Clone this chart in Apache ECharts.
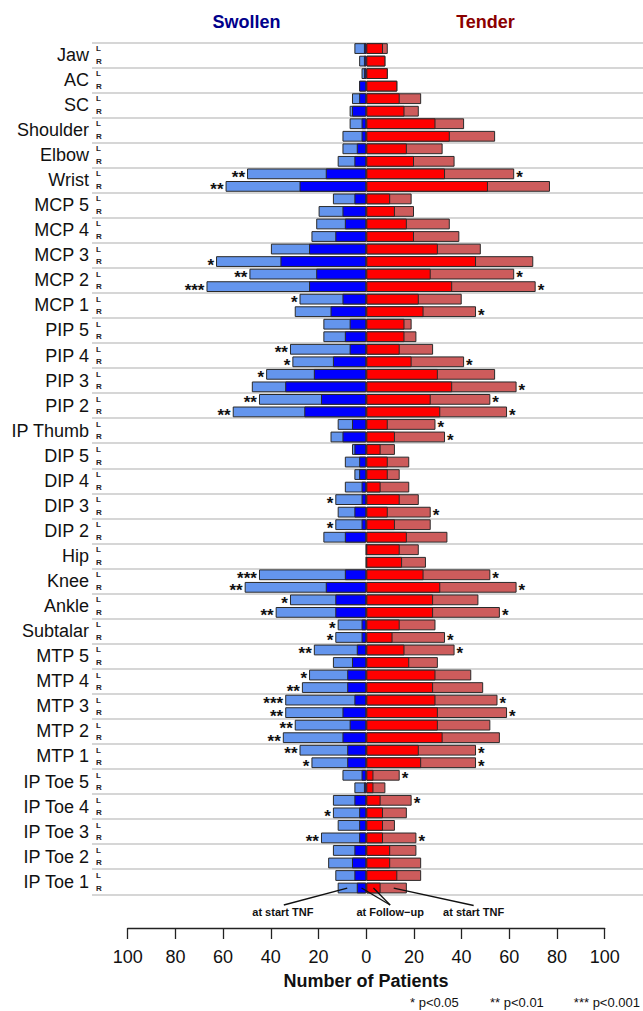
<!DOCTYPE html>
<html>
<head>
<meta charset="utf-8">
<title>Swollen and tender joints</title>
<script src="https://cdn.jsdelivr.net/npm/echarts@6.0.0/dist/echarts.min.js"></script>
<style>
  html, body { margin: 0; padding: 0; background: #fff; }
  #main { width: 643px; height: 1011px; }
</style>
</head>
<body>
<div id="main"></div>
<script>
const joints = ['Jaw', 'AC', 'SC', 'Shoulder', 'Elbow', 'Wrist', 'MCP 5', 'MCP 4', 'MCP 3', 'MCP 2', 'MCP 1',
  'PIP 5', 'PIP 4', 'PIP 3', 'PIP 2', 'IP Thumb', 'DIP 5', 'DIP 4', 'DIP 3', 'DIP 2', 'Hip', 'Knee', 'Ankle',
  'Subtalar', 'MTP 5', 'MTP 4', 'MTP 3', 'MTP 2', 'MTP 1', 'IP Toe 5', 'IP Toe 4', 'IP Toe 3', 'IP Toe 2', 'IP Toe 1'];
const sides = ['L', 'R'];

// two values per joint: left, right
const swollenStart = [5, 3, 2, 3, 6, 7, 7, 10, 10, 12, 50, 59, 14, 20, 21, 23, 40, 63, 49, 67, 28, 30,
  18, 18, 32, 31, 42, 48, 45, 56, 12, 15, 6, 9, 5, 9, 13, 12, 13, 18, 0, 0, 45, 51, 32, 38,
  12, 13, 22, 14, 24, 27, 34, 34, 30, 35, 28, 23, 10, 5, 14, 14, 12, 19, 14, 16, 13, 12];
const swollenFollow = [1, 1, 1, 3, 3, 6, 2, 2, 4, 5, 17, 28, 5, 10, 9, 13, 24, 36, 21, 24, 10, 15,
  7, 9, 7, 14, 22, 34, 19, 26, 6, 10, 5, 3, 3, 2, 2, 5, 2, 9, 0, 0, 9, 17, 13, 13,
  2, 2, 4, 6, 8, 8, 5, 10, 7, 10, 8, 8, 2, 1, 5, 3, 3, 3, 5, 6, 5, 4];
const tenderStart = [9, 8, 9, 13, 23, 22, 41, 54, 32, 37, 62, 77, 19, 20, 35, 39, 48, 70, 62, 71, 40, 46,
  19, 21, 28, 41, 54, 63, 52, 59, 29, 33, 12, 18, 14, 18, 22, 27, 27, 34, 22, 25, 52, 63, 47, 56,
  29, 33, 37, 30, 44, 49, 55, 59, 52, 56, 46, 46, 14, 8, 19, 17, 12, 21, 21, 23, 23, 17];
const tenderFollow = [7, 8, 9, 13, 14, 16, 29, 35, 17, 20, 33, 51, 10, 12, 17, 20, 30, 46, 27, 36, 22, 24,
  16, 16, 14, 19, 30, 36, 27, 31, 9, 12, 6, 9, 9, 6, 14, 9, 12, 17, 14, 15, 24, 31, 28, 28,
  14, 11, 16, 18, 29, 28, 29, 30, 30, 32, 22, 23, 3, 3, 6, 7, 7, 7, 10, 10, 13, 6];

// significance marks, start vs follow-up
const swollenSig = ['', '', '', '', '', '', '', '', '', '', '**', '**', '', '', '', '', '', '*', '**', '***', '*', '',
  '', '', '**', '*', '*', '', '**', '**', '', '', '', '', '', '', '*', '', '*', '', '', '', '***', '**', '*', '**',
  '*', '*', '**', '', '*', '**', '***', '**', '**', '**', '**', '*', '', '', '', '*', '', '**', '', '', '', ''];
const tenderSig = ['', '', '', '', '', '', '', '', '', '', '*', '', '', '', '', '', '', '', '*', '*', '', '*',
  '', '', '', '*', '', '*', '*', '*', '*', '*', '', '', '', '', '', '*', '', '', '', '', '*', '*', '', '*',
  '', '*', '*', '', '', '', '*', '*', '', '', '*', '*', '*', '', '*', '', '', '*', '', '', '', ''];

const axisTicks = [-100, 100, 20];

const rows = [];
joints.forEach(j => sides.forEach(s => rows.push(j + ' ' + s)));

const FONT = "'Liberation Sans', Arial, Helvetica, sans-serif";
const chart = echarts.init(document.getElementById('main'), null, { renderer: 'svg' });

function barSeries(name, values, color, sig, pos) {
  const sign = pos === 'left' ? -1 : 1;
  return {
    name: name,
    type: 'bar',
    xAxisIndex: 0,
    yAxisIndex: 0,
    data: values.map(v => sign * v),
    barGap: '-100%',
    barCategoryGap: '14%',
    itemStyle: { color: color, borderColor: '#2a2a2a', borderWidth: 1 },
    label: sig ? {
      show: true,
      position: pos,
      distance: 2,
      offset: [0, 3.5],
      formatter: p => sig[p.dataIndex],
      fontSize: 17,
      lineHeight: 10,
      fontWeight: 'bold',
      color: '#111',
      fontFamily: FONT
    } : { show: false }
  };
}

const option = {
  animation: false,
  textStyle: { fontFamily: FONT },
  grid: [
    { left: 92, right: 0, top: 42.3, height: 852 },
    { left: 127.7, right: 38.3, top: 927, height: 1 }
  ],
  xAxis: [
    { gridIndex: 0, type: 'value', min: -115, max: 116, show: false },
    {
      gridIndex: 1, type: 'value', min: axisTicks[0], max: axisTicks[1], interval: axisTicks[2],
      axisLine: { show: true, lineStyle: { color: '#222', width: 1.3 } },
      axisTick: { show: true, length: 11, lineStyle: { color: '#222', width: 1.3 } },
      axisLabel: { margin: 20, fontSize: 18, color: '#111', formatter: v => Math.abs(v) },
      splitLine: { show: false }
    }
  ],
  yAxis: [
    {
      gridIndex: 0, type: 'category', data: rows, inverse: true,
      axisLine: { show: false }, axisTick: { show: false },
      axisLabel: { inside: true, interval: 0, margin: 4, fontSize: 8, lineHeight: 9, fontWeight: 'bold', color: '#222', formatter: v => v.slice(-1) }
    },
    {
      gridIndex: 0, type: 'category', data: joints, inverse: true, position: 'left',
      axisLine: { show: false }, axisTick: { show: false },
      axisLabel: { interval: 0, margin: 3, fontSize: 18, color: '#111' },
      splitLine: { show: true, interval: 0, lineStyle: { color: '#c8c8c8', width: 1.5 } }
    },
    { gridIndex: 1, type: 'value', show: false }
  ],
  series: [
    barSeries('Swollen at start TNF', swollenStart, '#6495ED', swollenSig, 'left'),
    barSeries('Swollen at follow-up', swollenFollow, '#0000FF', null, 'left'),
    barSeries('Tender at start TNF', tenderStart, '#CD5C5C', tenderSig, 'right'),
    barSeries('Tender at follow-up', tenderFollow, '#FF0000', null, 'right')
  ]
};
chart.setOption(option);

// pointers from the bottom row to its four segments
const last = rows.length - 1;
const px = (x, r) => chart.convertToPixel({ seriesIndex: 0 }, [x, rows[r]]);
const lb = px(-(swollenStart[last] + swollenFollow[last]) / 2, last);
const db = px(-swollenFollow[last] / 2, last);
const rd = px(tenderFollow[last] / 2, last);
const ir = px((tenderStart[last] + tenderFollow[last]) / 2, last);
const xLeft = px(-35, last)[0], xMid = px(10, last)[0], xRight = px(45, last)[0];

function text(id, x, y, str, font, fill, align) {
  return {
    id: id, type: 'text', x: x, y: y, z: 10,
    style: { text: str, font: font, fill: fill || '#111', textAlign: align || 'center', textVerticalAlign: 'middle', align: align || 'center', verticalAlign: 'middle' }
  };
}
function line(id, a, b) {
  return { id: id, type: 'line', z: 10, shape: { x1: a[0], y1: a[1], x2: b[0], y2: b[1] }, style: { stroke: '#111', lineWidth: 1.3 } };
}

chart.setOption({
  graphic: [
    text('t1', 246.5, 22, 'Swollen', 'bold 18px ' + FONT, '#00008B'),
    text('t2', 485.5, 22, 'Tender', 'bold 18px ' + FONT, '#8B0000'),
    text('xname', 366, 981, 'Number of Patients', 'bold 18px ' + FONT),
    text('f1', 410, 1002, '* p<0.05', '13px ' + FONT, '#111', 'left'),
    text('f2', 490, 1002, '** p<0.01', '13px ' + FONT, '#111', 'left'),
    text('f3', 640, 1002, '*** p<0.001', '13px ' + FONT, '#111', 'right'),
    text('a1', xLeft, 912, 'at start TNF', 'bold 11px ' + FONT),
    text('a2', xMid, 912, 'at Follow\u2212up', 'bold 11px ' + FONT),
    text('a3', xRight, 912, 'at start TNF', 'bold 11px ' + FONT),
    line('l1', [xLeft + 1, 905], lb),
    line('l2', [xMid, 905], db),
    line('l3', [xMid, 905], rd),
    line('l4', [xRight, 905.5], ir)
  ]
});

window.addEventListener('resize', () => chart.resize());
</script>
</body>
</html>
